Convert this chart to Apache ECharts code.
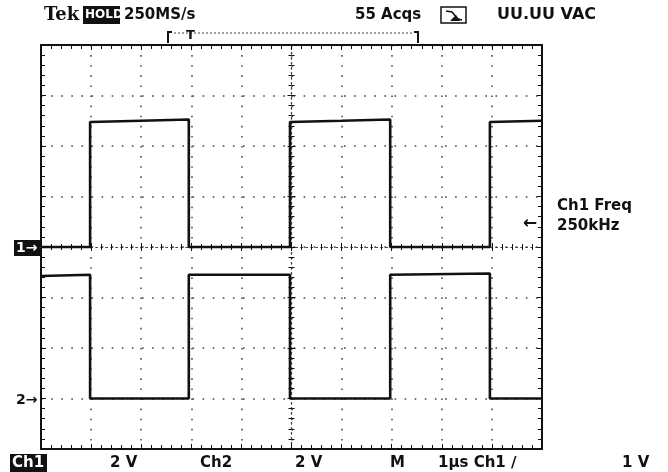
<!DOCTYPE html>
<html>
<head>
<meta charset="utf-8">
<script src="https://cdn.jsdelivr.net/npm/echarts@6/dist/echarts.min.js"></script>
<style>
  html, body { margin: 0; padding: 0; background: #fff; }
  #chart { width: 668px; height: 472px; }
</style>
</head>
<body>
<div id="chart"></div>
<script>
// screen: 10 div x 8 div, 1 us/div, 2 V/div
const voltsPerDiv = 2;
const ch1Offset = 0;   // divisions
const ch2Offset = -3;

// trace points (time in us from screen centre, volts)
const ch1Times = [-5, -4.02, -4.02, -3.0, -2.05, -2.05, -0.03, -0.03, 1.0, 1.97, 1.97, 3.96, 3.96, 5];
const ch1Volts = [0, 0, 4.95, 5.0, 5.05, 0, 0, 4.95, 5.0, 5.05, 0, 0, 4.95, 5.0];
const ch2Times = [-5, -4.02, -4.02, -2.05, -2.05, -0.03, -0.03, 1.97, 1.97, 3.96, 3.96, 5];
const ch2Volts = [4.85, 4.9, 0, 0, 4.9, 4.9, 0, 0, 4.9, 4.95, 0, 0];

const topLabels = ['Tek', 'HOLD', '250MS/s', '55 Acqs', 'UU.UU VAC'];
const bottomLabels = ['Ch1', '2 V', 'Ch2', '2 V', 'M', '1\u00b5s Ch1 \u2215', '1 V'];
const freqLabels = ['Ch1 Freq', '250kHz'];

const font = 'DejaVu Sans';
const ink = '#111';

function toDiv(times, volts, offset) {
  return times.map((t, i) => [t, volts[i] / voltsPerDiv + offset]);
}

const chart = echarts.init(document.getElementById('chart'), null, { renderer: 'canvas' });

function borderAxis(pos, withSplit) {
  return {
    type: 'value', min: -5, max: 5, interval: 1, position: pos,
    axisLine: { onZero: false, lineStyle: { color: ink, width: 2 } },
    axisTick: { inside: true, length: 5, lineStyle: { color: ink, width: 1 } },
    minorTick: { show: true, splitNumber: 5, length: 4, lineStyle: { color: ink, width: 1 } },
    axisLabel: { show: false },
    splitLine: { show: withSplit, lineStyle: { color: '#444', width: 1.5, type: [1.6, 8.5] } }
  };
}
function centreAxis(pos, inside, idx) {
  return {
    type: 'value', min: -5, max: 5, interval: 1, position: pos,
    axisLine: { onZero: true, onZeroAxisIndex: idx, lineStyle: { color: '#444', width: 1.2, type: [1.5, 3.5] } },
    axisTick: { inside: inside, length: 4, lineStyle: { color: ink } },
    minorTick: { show: true, splitNumber: 5, length: 3, lineStyle: { color: ink } },
    axisLabel: { show: false },
    splitLine: { show: false }
  };
}
function yBorder(pos, withSplit) {
  const a = borderAxis(pos, withSplit);
  a.min = -4; a.max = 4;
  return a;
}
function yCentre(pos, inside, idx) {
  const a = centreAxis(pos, inside, idx);
  a.min = -4; a.max = 4;
  return a;
}

function txt(x, y, s, opt) {
  return {
    type: 'text', x: x, y: y, silent: true,
    style: Object.assign({
      text: s, fill: ink, font: 'bold 15px "' + font + '"',
      verticalAlign: 'middle', align: 'left'
    }, opt || {})
  };
}

const graphics = [
  // top status row
  txt(44, 15, topLabels[0], { font: 'bold 18px "DejaVu Serif"' }),
  { type: 'rect', shape: { x: 83, y: 6, width: 37, height: 18 }, style: { fill: ink } },
  txt(85, 15, topLabels[1], { fill: '#fff', font: 'bold 12px "' + font + '"' }),
  txt(124, 15, topLabels[2]),
  txt(355, 15, topLabels[3]),
  { type: 'rect', shape: { x: 441, y: 7, width: 25, height: 16 }, style: { fill: 'none', stroke: ink, lineWidth: 1.5 } },
  { type: 'polyline', shape: { points: [[446, 11], [452, 12], [458, 19], [462, 20]] }, style: { stroke: ink, lineWidth: 1.5, fill: 'none' } },
  { type: 'polygon', shape: { points: [[450, 21], [456, 15], [460, 21]] }, style: { fill: ink } },
  txt(497, 15, topLabels[4], { font: 'bold 16px "' + font + '"' }),
  // trigger position bracket
  { type: 'polyline', shape: { points: [[168, 43], [168, 32], [172, 32]] }, style: { stroke: ink, lineWidth: 2, fill: 'none' } },
  { type: 'polyline', shape: { points: [[414, 32], [418, 32], [418, 43]] }, style: { stroke: ink, lineWidth: 2, fill: 'none' } },
  { type: 'line', shape: { x1: 174, y1: 33, x2: 412, y2: 33 }, style: { stroke: '#444', lineWidth: 1, lineDash: [2, 2] } },
  txt(186, 36, 'T', { font: 'bold 13px "' + font + '"' }),
  // channel ground markers
  { type: 'rect', shape: { x: 14, y: 240, width: 26, height: 16 }, style: { fill: ink } },
  txt(16, 248, '1\u2192', { fill: '#fff', font: 'bold 14px "' + font + '"' }),
  txt(16, 400, '2\u2192', { font: 'bold 14px "' + font + '"' }),
  // trigger level arrow
  txt(523, 224, '\u2190', { font: 'bold 17px "' + font + '"' }),
  // measurement readout
  txt(557, 206, freqLabels[0]),
  txt(557, 226, freqLabels[1]),
  // bottom row
  { type: 'rect', shape: { x: 10, y: 454, width: 37, height: 18 }, style: { fill: ink } },
  txt(12, 463, bottomLabels[0], { fill: '#fff' }),
  txt(110, 463, bottomLabels[1]),
  txt(200, 463, bottomLabels[2]),
  txt(295, 463, bottomLabels[3]),
  txt(390, 463, bottomLabels[4]),
  txt(438, 463, bottomLabels[5]),
  txt(622, 463, bottomLabels[6])
];

const option = {
  backgroundColor: '#fff',
  animation: false,
  grid: { left: 41, top: 45, width: 501, height: 404 },
  xAxis: [
    borderAxis('bottom', true),
    borderAxis('top', false),
    centreAxis('bottom', true, 0),
    centreAxis('bottom', false, 1)
  ],
  yAxis: [
    yBorder('left', true),
    yBorder('right', false),
    yCentre('left', true, 0),
    yCentre('left', false, 1)
  ],
  series: [
    {
      name: 'Ch1', type: 'line', xAxisIndex: 0, yAxisIndex: 0,
      symbol: 'none', lineStyle: { color: ink, width: 2.6 },
      data: toDiv(ch1Times, ch1Volts, ch1Offset)
    },
    {
      name: 'Ch2', type: 'line', xAxisIndex: 0, yAxisIndex: 0,
      symbol: 'none', lineStyle: { color: ink, width: 2.6 },
      data: toDiv(ch2Times, ch2Volts, ch2Offset)
    }
  ],
  graphic: graphics
};

chart.setOption(option);
</script>
</body>
</html>
